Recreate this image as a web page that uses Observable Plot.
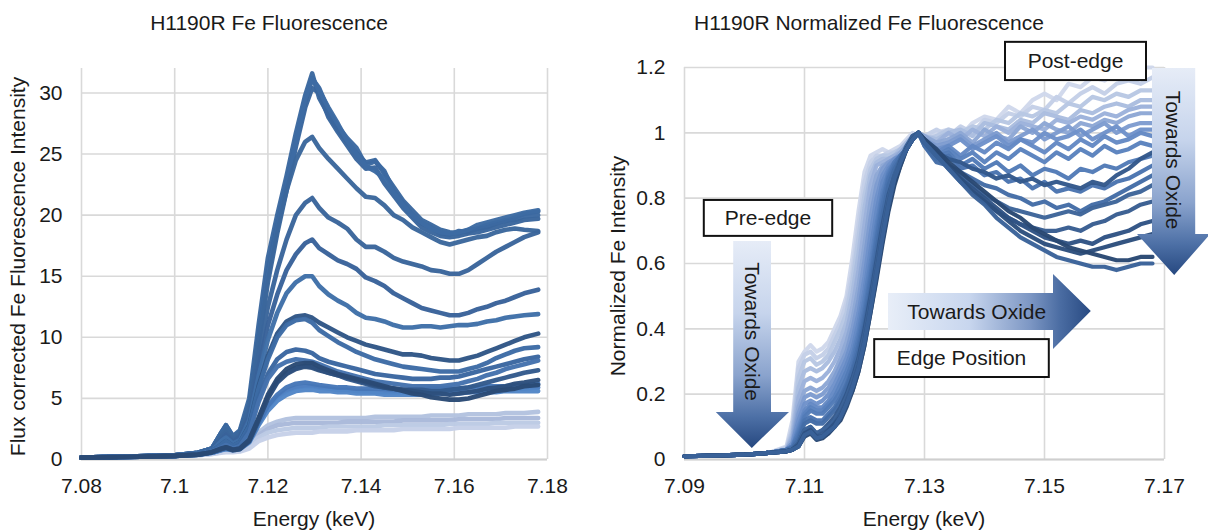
<!DOCTYPE html>
<html><head><meta charset="utf-8">
<script src="https://cdn.jsdelivr.net/npm/d3@7"></script>
<script src="https://cdn.jsdelivr.net/npm/@observablehq/plot@0.6"></script>
<style>
body{margin:0;background:#fff;}
#wrap{position:relative;width:1208px;height:531px;overflow:hidden;background:#fff;}
#left{position:absolute;left:0;top:0;}
#right{position:absolute;left:600px;top:0;}
</style></head><body><div id="wrap"><div id="left"></div><div id="right"></div></div>
<script>
// ---------------- LEFT PANEL DATA (flux corrected intensity) ----------------
const leftTitle = "H1190R Fe Fluorescence";
const leftYLabel = "Flux corrected Fe Fluorescence Intensity";
const xLabel = "Energy (keV)";
const leftXTicks = [7.08, 7.1, 7.12, 7.14, 7.16, 7.18];
const leftYTicks = [0, 5, 10, 15, 20, 25, 30];
const leftEnergy = [7.080,7.090,7.100,7.105,7.108,7.110,7.111,7.1125,7.114,7.116,7.118,7.120,7.122,7.124,7.126,7.128,7.1295,7.131,7.133,7.135,7.137,7.139,7.141,7.143,7.145,7.147,7.149,7.151,7.153,7.155,7.157,7.159,7.161,7.163,7.165,7.167,7.169,7.171,7.173,7.175,7.178];
const leftO = [0.15,0.2,0.3,0.4,0.5,0.7,0.8,0.75,0.8,1.3,2.2,2.8,3.1,3.3,3.4,3.4,3.4,3.4,3.4,3.4,3.4,3.4,3.4,3.5,3.5,3.5,3.5,3.5,3.5,3.6,3.6,3.6,3.6,3.7,3.7,3.7,3.7,3.8,3.8,3.8,3.9];
const leftP = [0.15,0.2,0.3,0.4,0.5,0.65,0.75,0.7,0.75,1.2,2.0,2.5,2.8,2.9,3.0,3.0,3.0,3.0,3.0,3.0,3.1,3.1,3.1,3.1,3.1,3.1,3.2,3.2,3.2,3.2,3.2,3.2,3.3,3.3,3.3,3.3,3.3,3.4,3.4,3.4,3.4];
const leftQ = [0.15,0.2,0.3,0.35,0.45,0.6,0.7,0.65,0.7,1.1,1.8,2.2,2.4,2.5,2.6,2.6,2.6,2.6,2.7,2.7,2.7,2.7,2.7,2.7,2.8,2.8,2.8,2.8,2.8,2.8,2.8,2.9,2.9,2.9,2.9,2.9,3.0,3.0,3.0,3.0,3.0];
const leftR = [0.15,0.2,0.3,0.35,0.45,0.55,0.6,0.6,0.65,0.9,1.5,1.8,2.0,2.1,2.2,2.2,2.2,2.3,2.3,2.3,2.3,2.4,2.4,2.4,2.4,2.4,2.5,2.5,2.5,2.5,2.5,2.5,2.6,2.6,2.6,2.6,2.6,2.6,2.7,2.7,2.7];
const leftL = [0.15,0.2,0.3,0.4,0.55,0.8,0.9,0.8,0.9,1.5,3.0,4.3,5.1,5.6,5.9,6.0,6.0,5.9,5.8,5.7,5.7,5.6,5.6,5.5,5.5,5.5,5.5,5.4,5.4,5.4,5.4,5.5,5.5,5.5,5.6,5.6,5.7,5.7,5.8,5.8,5.9];
const leftM = [0.15,0.2,0.3,0.4,0.55,0.75,0.85,0.75,0.85,1.4,2.8,4.0,4.8,5.3,5.6,5.7,5.7,5.6,5.6,5.5,5.5,5.4,5.4,5.4,5.3,5.3,5.3,5.3,5.3,5.3,5.4,5.4,5.4,5.5,5.5,5.5,5.5,5.6,5.6,5.6,5.6];
const leftN = [0.15,0.2,0.3,0.4,0.55,0.8,0.9,0.8,0.9,1.5,3.0,4.4,5.3,5.9,6.2,6.3,6.2,6.1,6.0,5.9,5.9,5.8,5.8,5.8,5.8,5.7,5.7,5.7,5.7,5.8,5.8,5.8,5.8,5.9,5.9,6.0,6.0,6.0,6.1,6.1,6.2];
const leftA1 = [0.15,0.25,0.35,0.55,0.9,2.2,2.8,1.9,2.4,5.0,11.0,16.5,20.0,23.2,26.7,29.8,31.6,29.6,28.2,27.0,26.0,25.1,24.3,24.5,23.4,22.3,21.2,20.4,19.6,19.2,18.8,18.6,18.5,18.8,18.9,19.2,19.4,19.5,19.8,20.1,20.3];
const leftA2 = [0.15,0.25,0.35,0.55,0.9,2.2,2.8,1.9,2.3,4.6,10.2,15.6,19.4,22.6,26.0,29.2,31.2,30.4,28.6,27.3,26.3,25.5,24.1,24.4,23.6,22.0,21.0,20.0,19.3,19.0,18.5,18.4,18.7,18.6,18.9,19.0,19.3,19.6,19.6,19.9,20.0];
const leftA3 = [0.15,0.25,0.35,0.55,0.9,2.2,2.7,1.8,2.2,4.4,9.8,15.2,19.0,22.0,25.6,28.8,30.4,30.0,28.0,26.8,25.7,24.6,23.8,23.9,22.6,21.6,20.6,19.8,19.0,18.6,18.3,18.2,18.3,18.5,18.6,18.8,19.0,19.2,19.4,19.6,19.7];
const leftA4 = [0.15,0.25,0.35,0.55,0.9,2.1,2.6,1.8,2.1,4.2,9.6,15.0,18.8,22.3,25.9,29.5,31.2,30.2,28.8,27.5,26.1,25.0,24.0,23.6,23.0,21.8,20.8,20.0,19.4,18.9,18.6,18.5,18.6,18.8,19.2,19.4,19.6,19.8,20.0,20.2,20.4];
const leftB = [0.15,0.25,0.35,0.55,0.85,2.0,2.5,1.7,2.1,4.2,9.5,14.5,18.5,22.0,24.5,26.0,26.4,25.5,24.6,23.8,23.0,22.2,21.5,21.4,20.8,20.0,19.6,19.0,18.6,18.2,17.8,17.6,17.8,18.0,18.2,18.3,18.6,18.8,18.9,18.8,18.7];
const leftC = [0.15,0.25,0.35,0.5,0.8,1.8,2.2,1.5,1.9,3.8,8.5,12.5,15.5,18.0,20.0,21.0,21.4,20.6,19.8,19.4,18.9,18.0,17.4,17.4,17.0,16.5,16.2,16.0,15.8,15.5,15.4,15.2,15.2,15.5,16.0,16.5,17.0,17.4,17.8,18.2,18.6];
const leftD = [0.15,0.25,0.35,0.5,0.8,1.6,2.0,1.4,1.8,3.5,7.5,11.0,13.5,15.5,16.8,17.7,18.0,17.3,16.8,16.3,16.0,15.6,14.9,14.6,14.2,13.6,13.2,12.8,12.4,12.2,12.0,11.8,11.8,12.0,12.3,12.5,12.8,13.0,13.3,13.6,13.9];
const leftE = [0.15,0.25,0.35,0.5,0.75,1.5,1.8,1.3,1.6,3.2,6.8,9.8,12.0,13.6,14.5,15.0,15.0,14.2,13.5,13.0,12.6,12.0,11.6,11.5,11.3,11.0,10.8,10.8,10.9,10.9,10.8,10.9,11.0,11.0,11.1,11.3,11.4,11.6,11.7,11.8,11.9];
const leftF = [0.15,0.25,0.3,0.45,0.7,1.2,1.5,1.1,1.4,2.8,6.0,8.5,10.3,11.3,11.7,11.8,11.6,11.2,10.8,10.4,10.0,9.7,9.4,9.2,9.0,8.8,8.6,8.6,8.5,8.3,8.2,8.1,8.1,8.3,8.5,8.8,9.1,9.4,9.7,10.0,10.3];
const leftG = [0.15,0.25,0.3,0.45,0.7,1.2,1.5,1.1,1.4,2.7,5.8,8.2,10.0,11.0,11.4,11.5,11.2,10.6,10.1,9.6,9.2,8.8,8.5,8.2,8.0,7.8,7.6,7.5,7.4,7.3,7.2,7.2,7.2,7.4,7.6,7.9,8.3,8.6,8.9,9.1,9.2];
const leftH = [0.15,0.25,0.3,0.45,0.65,1.0,1.2,0.9,1.2,2.4,5.0,7.0,8.2,8.8,9.0,8.9,8.7,8.3,8.0,7.8,7.6,7.4,7.2,7.0,6.9,6.8,6.7,6.6,6.6,6.6,6.7,6.7,6.8,7.0,7.2,7.4,7.6,7.8,8.0,8.2,8.4];
const leftI = [0.15,0.25,0.3,0.45,0.65,1.0,1.2,0.9,1.1,2.2,4.7,6.6,7.6,8.0,8.2,8.1,8.0,7.8,7.5,7.2,7.0,6.8,6.6,6.4,6.3,6.2,6.1,6.0,6.0,6.0,6.0,6.1,6.2,6.4,6.6,6.9,7.1,7.4,7.6,7.8,8.1];
const leftJ = [0.15,0.2,0.3,0.4,0.6,0.9,1.0,0.8,0.9,1.6,3.4,5.3,6.6,7.4,7.8,7.9,7.9,7.6,7.3,7.0,6.8,6.6,6.4,6.2,6.0,5.8,5.6,5.4,5.3,5.1,5.0,4.9,4.9,5.0,5.2,5.4,5.6,5.7,5.8,6.0,6.1];
const leftK = [0.15,0.2,0.3,0.4,0.6,0.85,0.95,0.75,0.85,1.5,3.2,5.0,6.3,7.0,7.4,7.6,7.5,7.3,7.1,6.9,6.7,6.5,6.3,6.1,5.9,5.8,5.7,5.6,5.5,5.4,5.4,5.3,5.4,5.5,5.6,5.8,5.9,6.0,6.2,6.3,6.5];
const leftK2 = [0.15,0.2,0.3,0.4,0.6,0.85,1.0,0.8,0.9,1.6,3.3,5.1,6.4,7.1,7.5,7.7,7.6,7.4,7.1,6.9,6.6,6.4,6.2,6.0,5.9,5.8,5.7,5.7,5.7,5.6,5.6,5.7,5.8,5.9,6.1,6.3,6.5,6.7,6.9,7.1,7.3];
const leftSeries = [leftO,leftP,leftQ,leftR,leftL,leftM,leftN,leftA1,leftA2,leftA3,leftA4,leftB,leftC,leftD,leftE,leftF,leftG,leftH,leftI,leftK2,leftK,leftJ];
const leftColors = ["#b3c2df","#a9b9da","#bccae4","#c6d1e8","#4a7cbf","#5286c7","#4677b8","#3b689f","#3c69a1","#3a669d","#3d6ba3","#3b679c","#3a659b","#39629a","#3f6fa8","#2f5686","#3d6ba5","#3a66a0","#4472ad","#335a8c","#2d4f7d","#2a4a75"];

// ---------------- RIGHT PANEL DATA (normalized intensity) ----------------
const rightTitle = "H1190R Normalized Fe Fluorescence";
const rightYLabel = "Normalized Fe Intensity";
const rightXTicks = [7.09, 7.11, 7.13, 7.15, 7.17];
const rightYTicks = [0, 0.2, 0.4, 0.6, 0.8, 1, 1.2];
const rightEnergy = [7.090,7.095,7.100,7.104,7.107,7.108,7.109,7.110,7.111,7.112,7.113,7.114,7.115,7.116,7.117,7.118,7.119,7.120,7.121,7.122,7.123,7.124,7.125,7.126,7.127,7.128,7.129,7.130,7.132,7.134,7.136,7.138,7.140,7.142,7.144,7.146,7.148,7.150,7.152,7.154,7.156,7.158,7.160,7.162,7.164,7.166,7.168];
const rightR1 = [0.01,0.012,0.015,0.02,0.04,0.12,0.30,0.33,0.35,0.33,0.34,0.36,0.40,0.44,0.50,0.62,0.76,0.88,0.93,0.94,0.95,0.94,0.95,0.96,0.98,1.00,0.99,0.98,1.00,1.01,0.99,1.03,1.05,1.04,1.08,1.06,1.10,1.12,1.10,1.15,1.14,1.17,1.16,1.19,1.18,1.20,1.20];
const rightR2 = [0.01,0.012,0.015,0.02,0.035,0.10,0.28,0.32,0.33,0.31,0.32,0.34,0.38,0.42,0.48,0.58,0.72,0.85,0.91,0.93,0.93,0.94,0.94,0.95,0.97,0.99,1.00,0.99,1.01,0.99,1.02,1.00,1.04,1.03,1.06,1.05,1.08,1.07,1.11,1.09,1.12,1.14,1.12,1.15,1.16,1.15,1.17];
const rightR3 = [0.01,0.012,0.015,0.02,0.035,0.09,0.25,0.30,0.31,0.29,0.30,0.32,0.36,0.40,0.45,0.55,0.68,0.81,0.89,0.92,0.93,0.93,0.94,0.95,0.97,0.99,1.00,0.98,0.99,1.01,1.00,1.02,1.01,1.04,1.03,1.06,1.05,1.07,1.06,1.09,1.08,1.11,1.10,1.12,1.11,1.13,1.13];
const rightR4 = [0.01,0.012,0.015,0.02,0.03,0.08,0.22,0.27,0.28,0.27,0.28,0.30,0.33,0.37,0.42,0.51,0.63,0.77,0.87,0.91,0.92,0.92,0.93,0.95,0.97,0.99,1.00,0.99,0.98,1.00,1.01,0.99,1.03,1.02,1.01,1.04,1.03,1.06,1.05,1.04,1.07,1.06,1.08,1.09,1.08,1.10,1.10];
const rightR5 = [0.01,0.012,0.015,0.02,0.03,0.07,0.19,0.24,0.25,0.24,0.25,0.27,0.30,0.34,0.39,0.47,0.58,0.72,0.84,0.90,0.91,0.92,0.93,0.94,0.96,0.99,1.00,0.98,0.97,1.00,0.98,1.01,0.99,1.02,1.00,1.03,1.02,1.01,1.04,1.03,1.05,1.04,1.06,1.05,1.07,1.08,1.08];
const rightR6 = [0.01,0.012,0.015,0.02,0.03,0.06,0.16,0.21,0.22,0.21,0.22,0.24,0.27,0.31,0.36,0.43,0.53,0.66,0.79,0.87,0.90,0.91,0.92,0.94,0.96,0.98,1.00,0.99,0.97,0.98,1.00,0.97,1.01,0.99,0.98,1.02,1.00,1.03,1.01,1.00,1.03,1.02,1.04,1.03,1.05,1.06,1.06];
const rightR7 = [0.01,0.012,0.015,0.02,0.03,0.05,0.14,0.19,0.20,0.19,0.20,0.22,0.25,0.29,0.33,0.40,0.49,0.61,0.74,0.84,0.89,0.91,0.92,0.93,0.95,0.98,1.00,0.98,0.96,0.97,0.99,0.96,0.98,1.00,0.97,0.99,1.01,0.98,1.00,1.02,0.99,1.01,1.03,1.00,1.02,1.03,1.03];
const rightR8 = [0.01,0.012,0.015,0.02,0.03,0.05,0.12,0.17,0.18,0.17,0.18,0.20,0.23,0.27,0.31,0.37,0.45,0.56,0.69,0.80,0.87,0.90,0.92,0.93,0.95,0.98,1.00,0.98,0.95,0.96,0.98,0.95,0.97,0.99,0.96,0.98,0.97,1.00,0.98,0.99,1.01,0.98,1.00,1.02,0.99,1.01,1.01];
const rightR9 = [0.01,0.012,0.015,0.02,0.03,0.04,0.10,0.15,0.17,0.16,0.16,0.18,0.21,0.25,0.29,0.34,0.42,0.52,0.64,0.76,0.85,0.89,0.91,0.93,0.95,0.98,1.00,0.97,0.94,0.96,0.93,0.96,0.94,0.97,0.95,0.98,0.96,0.94,0.97,0.95,0.98,0.96,0.99,0.97,0.98,1.00,0.99];
const rightR10 = [0.01,0.012,0.015,0.02,0.03,0.04,0.09,0.14,0.16,0.15,0.15,0.17,0.19,0.23,0.27,0.32,0.39,0.49,0.60,0.72,0.82,0.88,0.91,0.93,0.95,0.98,1.00,0.97,0.93,0.95,0.92,0.94,0.91,0.94,0.92,0.95,0.93,0.91,0.94,0.92,0.95,0.93,0.96,0.94,0.95,0.97,0.96];
const rightR11 = [0.01,0.012,0.015,0.02,0.03,0.04,0.08,0.13,0.15,0.14,0.14,0.16,0.18,0.21,0.25,0.30,0.37,0.46,0.57,0.69,0.80,0.87,0.91,0.93,0.95,0.98,1.00,0.97,0.93,0.94,0.90,0.92,0.89,0.91,0.88,0.90,0.87,0.89,0.88,0.86,0.89,0.88,0.90,0.89,0.91,0.92,0.93];
const rightR12 = [0.01,0.012,0.015,0.02,0.03,0.035,0.07,0.12,0.13,0.12,0.12,0.14,0.16,0.19,0.23,0.28,0.35,0.44,0.55,0.67,0.78,0.86,0.90,0.93,0.95,0.98,1.00,0.96,0.92,0.93,0.89,0.90,0.87,0.88,0.85,0.86,0.83,0.85,0.82,0.83,0.82,0.84,0.83,0.85,0.86,0.88,0.90];
const rightR13 = [0.01,0.012,0.015,0.02,0.03,0.035,0.06,0.11,0.12,0.11,0.11,0.13,0.15,0.18,0.22,0.27,0.33,0.42,0.52,0.64,0.75,0.84,0.89,0.92,0.95,0.98,1.00,0.96,0.91,0.90,0.88,0.86,0.84,0.83,0.81,0.80,0.78,0.79,0.77,0.78,0.76,0.78,0.79,0.81,0.83,0.85,0.87];
const rightR14 = [0.01,0.012,0.015,0.02,0.025,0.03,0.05,0.09,0.10,0.08,0.09,0.11,0.13,0.16,0.20,0.25,0.31,0.40,0.50,0.61,0.72,0.81,0.87,0.91,0.95,0.98,1.00,0.97,0.94,0.92,0.91,0.89,0.88,0.86,0.87,0.85,0.86,0.84,0.85,0.84,0.83,0.85,0.84,0.87,0.89,0.92,0.94];
const rightR15 = [0.01,0.012,0.015,0.02,0.025,0.03,0.05,0.09,0.10,0.08,0.09,0.10,0.12,0.15,0.19,0.24,0.30,0.38,0.48,0.59,0.70,0.80,0.87,0.92,0.96,0.99,1.00,0.97,0.93,0.90,0.87,0.84,0.81,0.79,0.77,0.76,0.75,0.74,0.75,0.76,0.75,0.77,0.78,0.79,0.81,0.82,0.84];
const rightR16 = [0.01,0.012,0.015,0.02,0.025,0.03,0.045,0.08,0.09,0.07,0.08,0.09,0.11,0.14,0.18,0.23,0.29,0.37,0.47,0.58,0.69,0.79,0.86,0.91,0.95,0.99,1.00,0.97,0.93,0.89,0.85,0.82,0.79,0.76,0.74,0.72,0.71,0.70,0.70,0.71,0.70,0.72,0.73,0.75,0.76,0.78,0.79];
const rightR17 = [0.01,0.012,0.015,0.02,0.025,0.03,0.045,0.08,0.09,0.07,0.07,0.09,0.11,0.13,0.17,0.22,0.28,0.36,0.46,0.57,0.68,0.78,0.85,0.91,0.95,0.98,1.00,0.98,0.94,0.90,0.86,0.83,0.80,0.77,0.74,0.72,0.70,0.68,0.67,0.66,0.67,0.66,0.68,0.69,0.70,0.72,0.73];
const rightR18 = [0.01,0.012,0.015,0.02,0.025,0.03,0.04,0.075,0.085,0.065,0.07,0.08,0.10,0.13,0.17,0.21,0.27,0.35,0.45,0.56,0.67,0.77,0.85,0.90,0.95,0.98,1.00,0.98,0.94,0.90,0.86,0.82,0.79,0.76,0.73,0.70,0.68,0.66,0.65,0.64,0.63,0.64,0.65,0.66,0.67,0.68,0.69];
const rightR19 = [0.01,0.012,0.015,0.02,0.025,0.03,0.04,0.07,0.08,0.06,0.065,0.08,0.10,0.12,0.16,0.21,0.27,0.35,0.45,0.55,0.66,0.76,0.84,0.90,0.95,0.98,1.00,0.98,0.95,0.91,0.88,0.85,0.82,0.79,0.76,0.74,0.71,0.69,0.67,0.65,0.64,0.63,0.62,0.61,0.61,0.62,0.62];
const rightR20 = [0.01,0.012,0.015,0.02,0.025,0.03,0.04,0.075,0.085,0.065,0.07,0.085,0.10,0.13,0.17,0.22,0.28,0.36,0.46,0.57,0.68,0.78,0.86,0.91,0.95,0.98,1.00,0.97,0.93,0.89,0.85,0.81,0.78,0.74,0.71,0.68,0.66,0.64,0.62,0.61,0.60,0.59,0.59,0.58,0.59,0.60,0.60];
const rightSeries = [rightR1,rightR2,rightR3,rightR4,rightR5,rightR6,rightR7,rightR8,rightR9,rightR10,rightR11,rightR12,rightR13,rightR14,rightR15,rightR16,rightR17,rightR18,rightR19,rightR20];
const rightColors = ["#cfd8eb","#c4cfe7","#b8c7e3","#aabddf","#9cb2db","#8da7d5","#7e9cd0","#7092ca","#6489c4","#5a82be","#527bb7","#4a74af","#436ca6","#33588b","#3d6499","#385d91","#2f5384","#2c4e7d","#294873","#3a6299"];

// ---------------- ANNOTATIONS (data coordinates of right panel) ----------------
const annPreBox = {label: "Pre-edge", x1: 7.0933, x2: 7.1147, y1: 0.683, y2: 0.793};
const annPostBox = {label: "Post-edge", x1: 7.1435, x2: 7.1670, y1: 1.160, y2: 1.277};
const annEdgeBox = {label: "Edge Position", x1: 7.1217, x2: 7.1508, y1: 0.251, y2: 0.367};
const annPreArrow = {label: "Towards Oxide", bx1: 7.0982, bx2: 7.1045, hx1: 7.0953, hx2: 7.1075, tipX: 7.1013, top: 0.667, headStart: 0.144, tip: 0.034, textY: 0.39};
const annPostArrow = {label: "Towards Oxide", bx1: 7.1680, bx2: 7.1752, hx1: 7.1655, hx2: 7.1777, tipX: 7.1717, top: 1.197, headStart: 0.689, tip: 0.563, textY: 0.915};
const annEdgeArrow = {label: "Towards Oxide", left: 7.1240, headStart: 7.1515, tip: 7.1578, by1: 0.395, by2: 0.508, hy1: 0.337, hy2: 0.566, tipY: 0.453, textX: 7.1388};

// ---------------- RENDERING ----------------
const FONT = "'Liberation Sans', Arial, Helvetica, sans-serif";
const GRID = "#d9d9d9";

function toRows(energy, series) {
  return series.flatMap((vals, s) => vals.map((v, j) => ({e: energy[j], v, s})));
}

function makeChart(opt) {
  const rows = toRows(opt.energy, opt.series);
  const chart = Plot.plot({
    width: opt.width, height: 531,
    marginLeft: opt.ml, marginRight: opt.mr, marginTop: opt.mt, marginBottom: 72,
    style: {fontFamily: FONT, fontSize: "21px", color: "#1a1a1a", background: "transparent", overflow: "hidden"},
    x: {domain: opt.xDomain, label: null},
    y: {domain: opt.yDomain, label: null},
    marks: [
      Plot.gridX(opt.xTicks, {stroke: GRID, strokeOpacity: 1, strokeWidth: 1.6}),
      Plot.gridY(opt.yTicks, {stroke: GRID, strokeOpacity: 1, strokeWidth: 1.6}),
      Plot.ruleY([0], {stroke: "#cfcfcf", strokeWidth: 1.8}),
      Plot.line(rows, {x: "e", y: "v", z: "s", stroke: d => opt.colors[d.s], strokeWidth: opt.sw, strokeLinejoin: "round", strokeLinecap: "round", strokeOpacity: 0.97}),
      Plot.axisX(opt.xTicks, {tickSize: 0, tickPadding: 19, tickFormat: opt.xFmt, label: null}),
      Plot.axisY(opt.yTicks, {tickSize: 0, tickPadding: 19, tickFormat: opt.yFmt, label: null})
    ]
  });
  const svg = d3.select(chart);
  const sx = chart.scale("x"), sy = chart.scale("y");
  const x = d3.scaleLinear(sx.domain, sx.range);
  const y = d3.scaleLinear(sy.domain, sy.range);
  svg.append("text").attr("x", 269).attr("y", 30).attr("text-anchor", "middle")
    .attr("fill", "#1a1a1a").text(opt.title);
  svg.append("text").attr("x", (sx.range[0] + sx.range[1]) / 2).attr("y", 526).attr("text-anchor", "middle")
    .attr("fill", "#1a1a1a").text(xLabel);
  svg.append("text").attr("transform", `translate(25,${(sy.range[0] + sy.range[1]) / 2 + 3}) rotate(-90)`)
    .attr("text-anchor", "middle").attr("fill", "#1a1a1a").text(opt.yLabel);
  return {chart, svg, x, y};
}

const fmt2 = d => String(+d.toFixed(2));
const fmt1 = d => String(+d.toFixed(1));

const L = makeChart({
  energy: leftEnergy, series: leftSeries, colors: leftColors, width: 600,
  ml: 81, mr: 53, mt: 68, xDomain: [7.08, 7.18], yDomain: [0, 32],
  xTicks: leftXTicks, yTicks: leftYTicks, xFmt: fmt2, yFmt: d => String(d),
  title: leftTitle, yLabel: leftYLabel, sw: 4.6
});
document.getElementById("left").appendChild(L.chart);

const R = makeChart({
  energy: rightEnergy, series: rightSeries, colors: rightColors, width: 608,
  ml: 84, mr: 44, mt: 67, xDomain: [7.09, 7.17], yDomain: [0, 1.2],
  xTicks: rightXTicks, yTicks: rightYTicks, xFmt: fmt2, yFmt: fmt1,
  title: rightTitle, yLabel: rightYLabel, sw: 4.2
});
document.getElementById("right").appendChild(R.chart);

(function () {
  const {svg, x, y} = R;
  const defs = svg.append("defs");
  const gv = defs.append("linearGradient").attr("id", "gradV").attr("x1", 0).attr("y1", 0).attr("x2", 0).attr("y2", 1);
  [["0", "#e6ecf7"], ["0.35", "#c6d4ec"], ["0.65", "#8aa3cd"], ["0.85", "#4d70a6"], ["1", "#264880"]]
    .forEach(([o, c]) => gv.append("stop").attr("offset", o).attr("stop-color", c));
  const gh = defs.append("linearGradient").attr("id", "gradH").attr("x1", 0).attr("y1", 0).attr("x2", 1).attr("y2", 0);
  [["0", "#e8eef8"], ["0.4", "#c8d6ee"], ["0.7", "#7d97c4"], ["0.85", "#4a6ca2"], ["1", "#284a82"]]
    .forEach(([o, c]) => gh.append("stop").attr("offset", o).attr("stop-color", c));

  function vArrow(a) {
    const pts = [[a.bx1, a.top], [a.bx2, a.top], [a.bx2, a.headStart], [a.hx2, a.headStart], [a.tipX, a.tip], [a.hx1, a.headStart], [a.bx1, a.headStart]]
      .map(([px, py]) => [x(px), y(py)]);
    svg.append("polygon").attr("points", pts.map(p => p.join(",")).join(" ")).attr("fill", "url(#gradV)");
    const cx = (x(a.bx1) + x(a.bx2)) / 2, cy = y(a.textY);
    svg.append("text").attr("transform", `translate(${cx},${cy}) rotate(90)`).attr("text-anchor", "middle")
      .attr("dy", "0.35em").attr("fill", "#1a1a1a").text(a.label);
  }
  function hArrow(a) {
    const pts = [[a.left, a.by2], [a.headStart, a.by2], [a.headStart, a.hy2], [a.tip, a.tipY], [a.headStart, a.hy1], [a.headStart, a.by1], [a.left, a.by1]]
      .map(([px, py]) => [x(px), y(py)]);
    svg.append("polygon").attr("points", pts.map(p => p.join(",")).join(" ")).attr("fill", "url(#gradH)");
    const cx = x(a.textX), cy = (y(a.by1) + y(a.by2)) / 2;
    svg.append("text").attr("x", cx).attr("y", cy).attr("dy", "0.35em").attr("text-anchor", "middle")
      .attr("fill", "#1a1a1a").text(a.label);
  }
  function box(b) {
    svg.append("rect").attr("x", x(b.x1)).attr("y", y(b.y2)).attr("width", x(b.x2) - x(b.x1)).attr("height", y(b.y1) - y(b.y2))
      .attr("fill", "#fff").attr("stroke", "#111").attr("stroke-width", 2);
    svg.append("text").attr("x", (x(b.x1) + x(b.x2)) / 2).attr("y", (y(b.y1) + y(b.y2)) / 2).attr("dy", "0.35em")
      .attr("text-anchor", "middle").attr("fill", "#1a1a1a").text(b.label);
  }
  vArrow(annPreArrow);
  vArrow(annPostArrow);
  hArrow(annEdgeArrow);
  box(annPreBox);
  box(annPostBox);
  box(annEdgeBox);
})();
</script></body></html>
